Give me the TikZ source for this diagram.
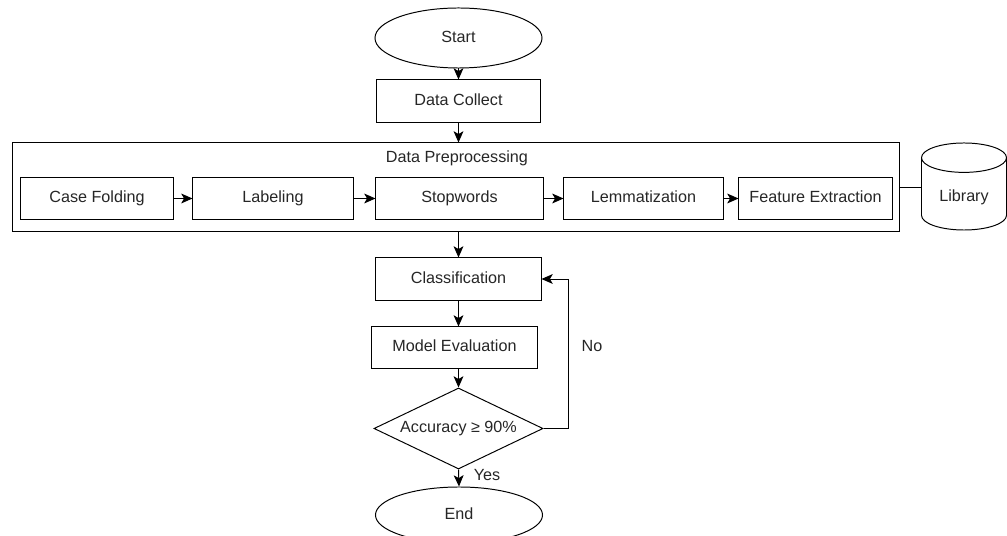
\documentclass[tikz,border=0pt]{standalone}
\usepackage{fontspec}
\setmainfont{Liberation Sans}
\usetikzlibrary{shapes.geometric,arrows.meta,positioning}

\begin{document}
\begin{tikzpicture}[
  x=0.025cm, y=-0.025cm,
  every node/.style={font=\fontsize{11.5}{13}\selectfont, text=black!85,
                     text height=1.6ex, text depth=0.4ex},
  proc/.style={rectangle, draw, line width=0.7pt, minimum width=#1,
               minimum height=1.05cm, inner sep=2pt},
  term/.style={ellipse, draw, line width=0.7pt, minimum width=4.175cm,
               minimum height=#1, inner sep=0pt},
  decision/.style={diamond, draw, line width=0.7pt, minimum width=4.225cm,
                   minimum height=2.025cm, inner sep=0pt, aspect=2.1},
  store/.style={cylinder, shape border rotate=90, draw, line width=0.7pt,
                aspect=0.5, minimum width=2.125cm, minimum height=2.175cm,
                anchor=shape center},
  arr/.style={-{Stealth[length=8pt,width=7pt,inset=2pt]}, line width=0.7pt},
  conn/.style={line width=0.7pt}
]
  \useasboundingbox (0,0) rectangle (1007,536);

  % Main flow
  \node[term=1.5cm] (start) at (458.5,38) {Start};
  \node[proc=4.075cm] (collect) at (458.5,101) {Data Collect};

  % Preprocessing block
  \node[rectangle, draw, line width=0.7pt, minimum width=22.15cm,
        minimum height=2.2cm] (prep) at (456,187) {};
  \node (preplabel) at (457,158) {Data Preprocessing};
  \node[proc=3.8cm, minimum height=1.025cm] (fold) at (97,198.5) {Case Folding};
  \node[proc=4.0cm, minimum height=1.025cm] (label) at (273,198.5) {Labeling};
  \node[proc=4.175cm, minimum height=1.025cm] (stop) at (459.5,198.5) {Stopwords};
  \node[proc=3.975cm, minimum height=1.025cm] (lemma) at (643.5,198.5) {Lemmatization};
  \node[proc=3.825cm, minimum height=1.025cm] (feat) at (815.5,198.5) {Feature Extraction};
  \node[store] (lib) at (964,186.5) {Library};

  % Model part
  \node[proc=4.125cm] (class) at (458.5,279) {Classification};
  \node[proc=4.125cm, minimum height=1.025cm] (eval) at (454.5,347.5) {Model Evaluation};
  \node[decision] (acc) at (458.5,428.5) {Accuracy ≥ 90\%};
  \node[term=1.4cm] (end) at (459,515) {End};

  \node (no) at (592,347) {No};
  \node (yes) at (487,476) {Yes};

  % Connectors
  \draw[arr] (start) -- (collect);
  \draw[arr] (collect.south) -- (collect.south |- prep.north);
  \draw[arr] (fold) -- (label);
  \draw[arr] (label) -- (stop);
  \draw[arr] (stop) -- (lemma);
  \draw[arr] (lemma) -- (feat);
  \draw[conn] (prep.east) -- (lib.west |- prep.east);
  \draw[arr] (class.north |- prep.south) -- (class.north);
  \draw[arr] (class.south) -- (class.south |- eval.north);
  \draw[arr] (acc.north |- eval.south) -- (acc.north);
  \draw[arr] (acc.south) -- (end.north);
  \draw[arr] (acc.east) -- ++(25,0) |- (class.east);
\end{tikzpicture}
\end{document}
